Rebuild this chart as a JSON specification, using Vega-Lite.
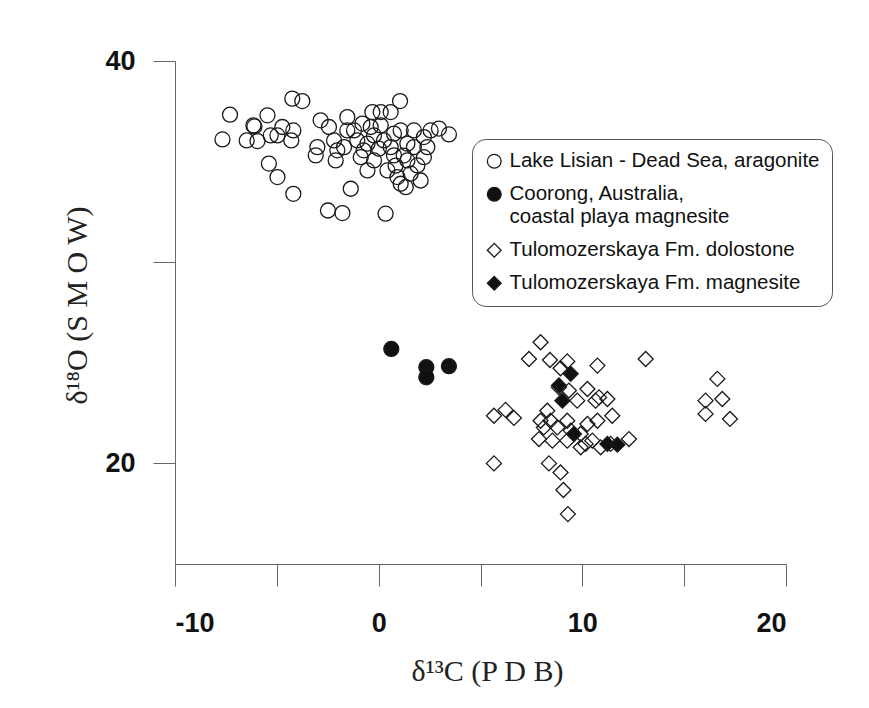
{
  "$schema": "https://vega.github.io/schema/vega-lite/v6.json",
  "autosize": "none",
  "width": 611,
  "height": 503,
  "padding": {"left": 175, "top": 61, "right": 83, "bottom": 144},
  "background": "white",
  "data": {"values": [
    {"g":"L","x":-7.30,"y":37.33},{"g":"L","x":-7.67,"y":36.10},{"g":"L","x":-6.15,"y":36.80},{"g":"L","x":-6.10,"y":36.75},
    {"g":"L","x":-6.48,"y":36.05},{"g":"L","x":-5.95,"y":36.02},{"g":"L","x":-5.46,"y":37.30},{"g":"L","x":-4.24,"y":38.13},
    {"g":"L","x":-3.75,"y":38.01},{"g":"L","x":-5.30,"y":36.30},{"g":"L","x":-4.97,"y":36.30},{"g":"L","x":-4.73,"y":36.72},
    {"g":"L","x":-4.19,"y":36.55},{"g":"L","x":-4.29,"y":36.05},{"g":"L","x":-5.39,"y":34.90},{"g":"L","x":-4.97,"y":34.23},
    {"g":"L","x":-4.19,"y":33.40},{"g":"L","x":-2.49,"y":32.57},{"g":"L","x":-1.78,"y":32.44},{"g":"L","x":0.34,"y":32.41},
    {"g":"L","x":-1.37,"y":33.65},{"g":"L","x":1.05,"y":38.01},{"g":"L","x":3.45,"y":36.35},{"g":"L","x":2.96,"y":36.64},
    {"g":"L","x":-2.85,"y":37.05},{"g":"L","x":-3.01,"y":35.72},{"g":"L","x":-3.09,"y":35.31},{"g":"L","x":-2.44,"y":36.72},
    {"g":"L","x":-2.19,"y":36.05},{"g":"L","x":-2.11,"y":35.06},{"g":"L","x":-1.54,"y":37.21},{"g":"L","x":-1.54,"y":36.55},
    {"g":"L","x":-1.70,"y":35.72},{"g":"L","x":-1.05,"y":36.05},{"g":"L","x":-0.80,"y":36.89},{"g":"L","x":-0.31,"y":37.46},
    {"g":"L","x":0.10,"y":37.46},{"g":"L","x":0.59,"y":37.46},{"g":"L","x":-0.23,"y":36.30},{"g":"L","x":-0.55,"y":35.89},
    {"g":"L","x":0.01,"y":35.64},{"g":"L","x":-0.23,"y":35.06},{"g":"L","x":-0.55,"y":34.56},{"g":"L","x":0.43,"y":34.56},
    {"g":"L","x":0.26,"y":36.05},{"g":"L","x":0.75,"y":35.31},{"g":"L","x":1.08,"y":36.55},{"g":"L","x":1.41,"y":35.89},
    {"g":"L","x":0.92,"y":34.23},{"g":"L","x":1.08,"y":33.90},{"g":"L","x":1.57,"y":34.40},{"g":"L","x":1.90,"y":34.81},
    {"g":"L","x":2.06,"y":34.06},{"g":"L","x":1.73,"y":36.55},{"g":"L","x":2.22,"y":36.22},{"g":"L","x":2.39,"y":35.72},
    {"g":"L","x":1.41,"y":35.06},{"g":"L","x":-0.88,"y":35.22},{"g":"L","x":-1.21,"y":36.55},{"g":"L","x":0.75,"y":36.39},
    {"g":"L","x":1.33,"y":33.73},{"g":"L","x":2.22,"y":35.22},{"g":"L","x":0.59,"y":35.72},{"g":"L","x":-0.39,"y":36.72},
    {"g":"L","x":1.73,"y":35.72},{"g":"L","x":-2.03,"y":35.56},{"g":"L","x":0.10,"y":36.80},{"g":"L","x":0.83,"y":34.80},
    {"g":"L","x":-0.74,"y":35.56},{"g":"L","x":1.23,"y":35.30},{"g":"L","x":2.55,"y":36.55},
    {"g":"C","x":0.62,"y":25.69},{"g":"C","x":2.34,"y":24.78},{"g":"C","x":2.34,"y":24.28},{"g":"C","x":3.45,"y":24.83},
    {"g":"D","x":7.95,"y":26.02},{"g":"D","x":7.38,"y":25.19},{"g":"D","x":8.41,"y":25.14},{"g":"D","x":9.26,"y":25.07},
    {"g":"D","x":8.93,"y":24.73},{"g":"D","x":10.74,"y":24.86},{"g":"D","x":13.11,"y":25.19},{"g":"D","x":8.85,"y":23.78},
    {"g":"D","x":9.34,"y":23.62},{"g":"D","x":10.25,"y":23.70},{"g":"D","x":9.75,"y":23.12},{"g":"D","x":10.82,"y":23.28},
    {"g":"D","x":11.23,"y":23.20},{"g":"D","x":5.66,"y":22.37},{"g":"D","x":6.23,"y":22.66},{"g":"D","x":6.64,"y":22.26},
    {"g":"D","x":8.28,"y":22.62},{"g":"D","x":7.95,"y":22.12},{"g":"D","x":8.44,"y":22.12},{"g":"D","x":9.26,"y":22.12},
    {"g":"D","x":10.25,"y":21.96},{"g":"D","x":10.74,"y":22.12},{"g":"D","x":11.47,"y":22.37},{"g":"D","x":7.87,"y":21.21},
    {"g":"D","x":8.53,"y":21.13},{"g":"D","x":9.26,"y":21.13},{"g":"D","x":10.16,"y":20.97},{"g":"D","x":10.49,"y":21.13},
    {"g":"D","x":10.90,"y":20.80},{"g":"D","x":12.29,"y":21.21},{"g":"D","x":5.66,"y":20.00},{"g":"D","x":8.36,"y":20.00},
    {"g":"D","x":8.93,"y":19.55},{"g":"D","x":9.07,"y":18.68},{"g":"D","x":9.29,"y":17.48},{"g":"D","x":16.63,"y":24.20},
    {"g":"D","x":16.05,"y":23.12},{"g":"D","x":16.87,"y":23.20},{"g":"D","x":16.05,"y":22.46},{"g":"D","x":17.25,"y":22.21},
    {"g":"D","x":9.43,"y":21.63},{"g":"D","x":9.92,"y":21.46},{"g":"D","x":8.11,"y":21.79},{"g":"D","x":10.65,"y":23.12},
    {"g":"D","x":11.39,"y":20.97},{"g":"D","x":8.77,"y":21.79},{"g":"D","x":9.92,"y":20.80},
    {"g":"M","x":9.43,"y":24.45},{"g":"M","x":8.85,"y":23.87},{"g":"M","x":9.02,"y":23.12},{"g":"M","x":9.59,"y":21.46},
    {"g":"M","x":11.23,"y":20.97},{"g":"M","x":11.72,"y":20.93}
  ]},
  "mark": {"type": "point", "strokeWidth": 1.3, "size": 225, "opacity": 1},
  "encoding": {
    "x": {"field": "x", "type": "quantitative",
      "scale": {"domain": [-10, 20], "nice": false, "zero": false},
      "axis": {"values": [-10, -5, 0, 5, 10, 15, 20], "labelExpr": "datum.value % 10 === 0 ? toString(datum.value) : ''",
        "title": "δ¹³C (P D B)", "titlePadding": 20, "titleX": 312}},
    "y": {"field": "y", "type": "quantitative",
      "scale": {"domain": [15, 40], "nice": false, "zero": false},
      "axis": {"values": [20, 30, 40], "labelExpr": "datum.value % 20 === 0 ? toString(datum.value) : ''",
        "title": "δ¹⁸O (S M O W)", "titlePadding": 12, "titleY": 244}},
    "shape": {"field": "g", "type": "nominal",
      "scale": {"domain": ["L", "C", "D", "M"], "range": ["circle", "circle", "diamond", "diamond"]},
      "legend": {
        "title": null, "orient": "none", "legendX": 297, "legendY": 78,
        "labelExpr": "datum.value == 'L' ? 'Lake Lisian - Dead Sea, aragonite' : datum.value == 'C' ? ['Coorong, Australia,', 'coastal playa magnesite'] : datum.value == 'D' ? 'Tulomozerskaya Fm. dolostone' : 'Tulomozerskaya Fm. magnesite'",
        "encode": {"labels": {"enter": {"lineHeight": {"value": 24}}, "update": {"lineHeight": {"value": 24}}}}
      }},
    "fill": {"field": "g", "type": "nominal",
      "scale": {"domain": ["L", "C", "D", "M"], "range": ["transparent", "#111111", "transparent", "#111111"]},
      "legend": {
        "title": null, "orient": "none", "legendX": 297, "legendY": 78,
        "labelExpr": "datum.value == 'L' ? 'Lake Lisian - Dead Sea, aragonite' : datum.value == 'C' ? ['Coorong, Australia,', 'coastal playa magnesite'] : datum.value == 'D' ? 'Tulomozerskaya Fm. dolostone' : 'Tulomozerskaya Fm. magnesite'",
        "encode": {"labels": {"enter": {"lineHeight": {"value": 24}}, "update": {"lineHeight": {"value": 24}}}}
      }},
    "stroke": {"field": "g", "type": "nominal",
      "scale": {"domain": ["L", "C", "D", "M"], "range": ["#1a1a1a", "#1a1a1a", "#1a1a1a", "#1a1a1a"]},
      "legend": {
        "title": null, "orient": "none", "legendX": 297, "legendY": 78,
        "labelExpr": "datum.value == 'L' ? 'Lake Lisian - Dead Sea, aragonite' : datum.value == 'C' ? ['Coorong, Australia,', 'coastal playa magnesite'] : datum.value == 'D' ? 'Tulomozerskaya Fm. dolostone' : 'Tulomozerskaya Fm. magnesite'",
        "encode": {"labels": {"enter": {"lineHeight": {"value": 24}}, "update": {"lineHeight": {"value": 24}}}}
      }}
  },
  "config": {
    "view": {"stroke": null},
    "axis": {
      "grid": false, "domainColor": "#666666", "tickColor": "#666666", "domainWidth": 1, "tickWidth": 1,
      "tickSize": 22, "labelFont": "Liberation Sans", "labelFontWeight": "bold", "labelFontSize": 27,
      "labelColor": "#111111", "labelPadding": 20,
      "titleFont": "Liberation Serif", "titleFontWeight": "normal", "titleFontSize": 30, "titleColor": "#222222"
    },
    "axisX": {"labelPadding": 24},
    "axisY": {"labelPadding": 18},
    "legend": {
      "labelFont": "Liberation Sans", "labelFontSize": 20.5, "labelColor": "#111111", "labelLimit": 400,
      "symbolSize": 190, "symbolStrokeWidth": 1.3,
      "labelOffset": 5, "rowPadding": 12, "padding": 12,
      "strokeColor": "#555555", "cornerRadius": 14, "fillColor": "white"
    }
  }
}
